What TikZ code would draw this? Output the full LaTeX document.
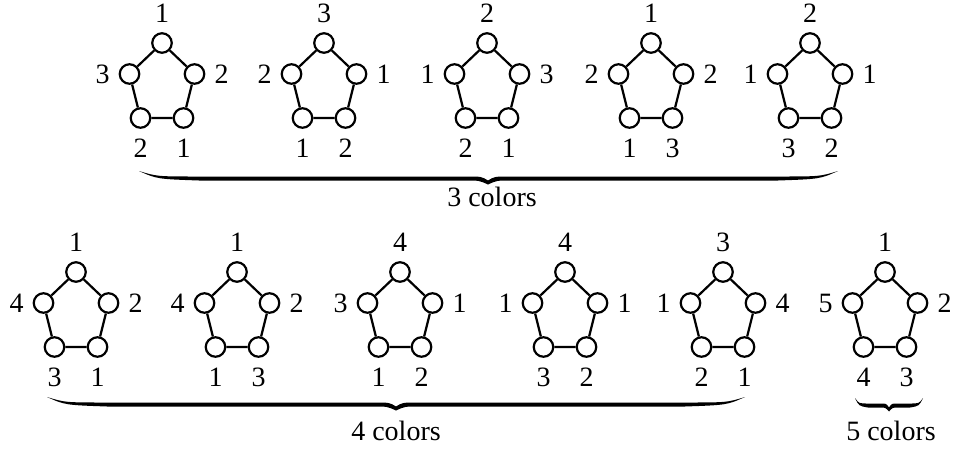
\documentclass[tikz,border=0pt]{standalone}
\usepackage{fontspec}
\setmainfont{Liberation Serif}
\newcommand\pent[8]{%
 \node[vtx] (#1t) at (#2,#3) {};
 \node[vtx] (#1l) at ({#2-32.5},{#3+31}) {};
 \node[vtx] (#1r) at ({#2+32.5},{#3+31}) {};
 \node[vtx] (#1a) at ({#2-21.5},{#3+75}) {};
 \node[vtx] (#1b) at ({#2+21.5},{#3+75}) {};
 \draw[edge] (#1t)--(#1l)--(#1a)--(#1b)--(#1r)--(#1t);
 \node[lab] (#1Lt) at (#2,{#3-30}) {#4};
 \node[lab] (#1Ll) at ({#2-59.5},{#3+31}) {#5};
 \node[lab] (#1Lr) at ({#2+59.5},{#3+31}) {#6};
 \node[lab] (#1La) at ({#2-21.5},{#3+105}) {#7};
 \node[lab] (#1Lb) at ({#2+21.5},{#3+105}) {#8};
}
% xL, xm, xR, y0, e, c
\newcommand\mybrace[6]{%
 \fill (#1,#4) .. controls ({#1+0.3*#5},{#4+5.5}) .. ({#1+#5},{#4+5.5})
   -- ({#2-#6},{#4+5.5}) .. controls ({#2-0.3*#6},{#4+5.5}) .. (#2,{#4+9.5})
   .. controls ({#2+0.3*#6},{#4+5.5}) .. ({#2+#6},{#4+5.5})
   -- ({#3-#5},{#4+5.5}) .. controls ({#3-0.3*#5},{#4+5.5}) .. (#3,#4)
   .. controls ({#3-0.3*#5},{#4+8}) .. ({#3-#5},{#4+9.5})
   -- ({#2+#6},{#4+9.5}) .. controls ({#2+0.4*#6},{#4+9.5}) .. (#2,{#4+13.5})
   .. controls ({#2-0.4*#6},{#4+9.5}) .. ({#2-#6},{#4+9.5})
   -- ({#1+#5},{#4+9.5}) .. controls ({#1+0.3*#5},{#4+8}) .. (#1,#4) -- cycle;
}
\begin{document}
\begin{tikzpicture}[x=1pt,y=-1pt,
  vtx/.style={circle,draw,line width=2.2pt,minimum size=19.5pt,inner sep=0pt},
  edge/.style={line width=2.2pt},
  lab/.style={inner sep=0pt,font=\fontsize{28}{31}\selectfont}]
\useasboundingbox (0,0) rectangle (956,448);
\pent{pa}{162}{43}{1}{3}{2}{2}{1}
\pent{pb}{324}{43}{3}{2}{1}{1}{2}
\pent{pc}{487}{43}{2}{1}{3}{2}{1}
\pent{pd}{651}{43}{1}{2}{2}{1}{3}
\pent{pe}{810}{43}{2}{1}{1}{3}{2}
\pent{qa}{76}{272}{1}{4}{2}{3}{1}
\pent{qb}{237}{272}{1}{4}{2}{1}{3}
\pent{qc}{400}{272}{4}{3}{1}{1}{2}
\pent{qd}{565}{272}{4}{1}{1}{3}{2}
\pent{qe}{723}{272}{3}{1}{4}{2}{1}
\pent{qf}{885}{272}{1}{5}{2}{4}{3}
\mybrace{139}{488}{838}{171}{60}{22}
\mybrace{47}{396}{745}{397}{60}{22}
\mybrace{855}{889}{923}{398}{13}{9}
\node[lab,anchor=base] (c3) at (492,206) {3 colors};
\node[lab,anchor=base] (c4) at (396,440) {4 colors};
\node[lab,anchor=base] (c5) at (891,440) {5 colors};
\end{tikzpicture}
\end{document}
